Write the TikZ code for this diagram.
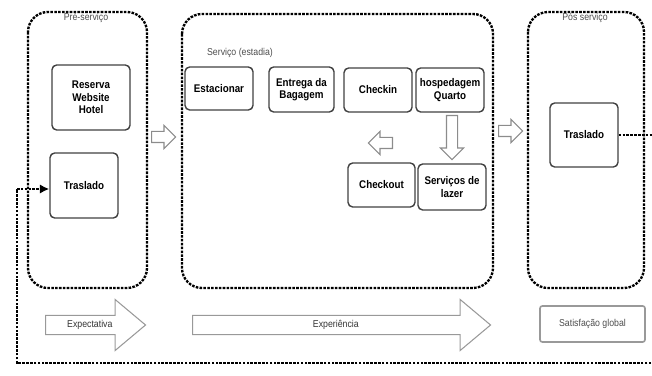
\documentclass[tikz,border=0pt]{standalone}
\usepackage{fontspec}
\setmainfont{Liberation Sans}[FakeStretch=0.88]
\usetikzlibrary{arrows.meta,shapes.arrows}

\tikzset{
  etapa/.style={draw, line width=2pt, dash pattern=on 2.2pt off 1.1pt, rounded corners=0.6cm},
  caixa/.style={draw=black!75, line width=1.2pt, rounded corners=4pt, align=center,
    font=\bfseries\fontsize{9.5}{10.5}\selectfont, inner sep=1pt},
  rotulo/.style={text=black!70, font=\fontsize{8.5}{9.5}\selectfont, inner sep=1pt},
  seta/.style={single arrow, draw=black!45, fill=white, line width=0.9pt, anchor=tail,
    minimum height=0.72cm, single arrow head extend=0.18cm, inner sep=0.15cm},
  setagrande/.style={single arrow, draw=black!40, line width=0.9pt, anchor=tail,
    single arrow head extend=0.48cm, single arrow tip angle=80, text=black!80,
    font=\fontsize{8.5}{9.5}\selectfont, text height=6pt, text depth=1.5pt,
    inner ysep=0.14cm, inner xsep=2pt},
  laco/.style={line width=2pt, dash pattern=on 2.2pt off 1.1pt}
}

\begin{document}
\begin{tikzpicture}[x=0.03cm, y=-0.03cm]
   \useasboundingbox (0,0) rectangle (652,376);
   % Etapas
   \draw[etapa] (28,12) rectangle (147,288);
   \draw[etapa] (182,14) rectangle (493,288);
   \draw[etapa] (528,12) rectangle (644,288);
   \node[rotulo] (lblPre) at (86,18) {Pré-serviço};
   \node[rotulo] (lblServ) at (240,53) {Serviço (estadia)};
   \node[rotulo] (lblPos) at (585,18) {Pós serviço};
   % Pre-servico
   \node[caixa, minimum width=2.34cm, minimum height=1.95cm] (reserva) at (91,97.5) {Reserva\\Website\\Hotel};
   \node[caixa, minimum width=2.04cm, minimum height=1.95cm] (trasPre) at (84,185.5) {Traslado};
   % Servico
   \node[caixa, minimum width=2.04cm, minimum height=1.29cm] (estacionar) at (219,88.5) {Estacionar};
   \node[caixa, minimum width=1.95cm, minimum height=1.35cm] (entrega) at (301.5,89.5) {Entrega da\\Bagagem};
   \node[caixa, minimum width=2.04cm, minimum height=1.32cm] (checkin) at (378,90) {Checkin};
   \node[caixa, minimum width=2.04cm, minimum height=1.32cm] (quarto) at (450,90) {hospedagem\\Quarto};
   \node[caixa, minimum width=2.01cm, minimum height=1.32cm] (checkout) at (381.5,185) {Checkout};
   \node[caixa, minimum width=2.04cm, minimum height=1.38cm] (lazer) at (452,187) {Serviços de\\lazer};
   % Pos servico
   \node[caixa, minimum width=2.04cm, minimum height=1.92cm] (trasPos) at (584,135) {Traslado};
   \node[draw=black!40, line width=1.4pt, rounded corners=2pt, minimum width=3.15cm,
     minimum height=1.08cm, rotulo] (satisf) at (592.5,324) {Satisfação global};
   % Setas
   \node[seta] (sPre) at (151,137) {};
   \node[seta] (sPos) at (498,131) {};
   \node[seta, shape border rotate=180] (sVolta) at (393,143) {};
   \node[seta, shape border rotate=270, minimum height=1.32cm] (sDesce) at (452,115) {};
   \node[setagrande, minimum height=3cm] (expect) at (45,325) {Expectativa};
   \node[setagrande, minimum height=8.94cm] (exper) at (192,325) {Experiência};
   % Laco
   \coordinate (cantoA) at (664,135);
   \coordinate (cantoB) at (664,363);
   \coordinate (cantoC) at (17,363);
   \coordinate (cantoD) at (17,189);
   \draw[laco] (trasPos.east) -- (cantoA) -- (cantoB) -- (cantoC) -- (cantoD);
   \draw[laco, -{Latex[length=8pt,width=8pt]}] (cantoD) -- (trasPre.west |- cantoD);
\end{tikzpicture}
\end{document}
